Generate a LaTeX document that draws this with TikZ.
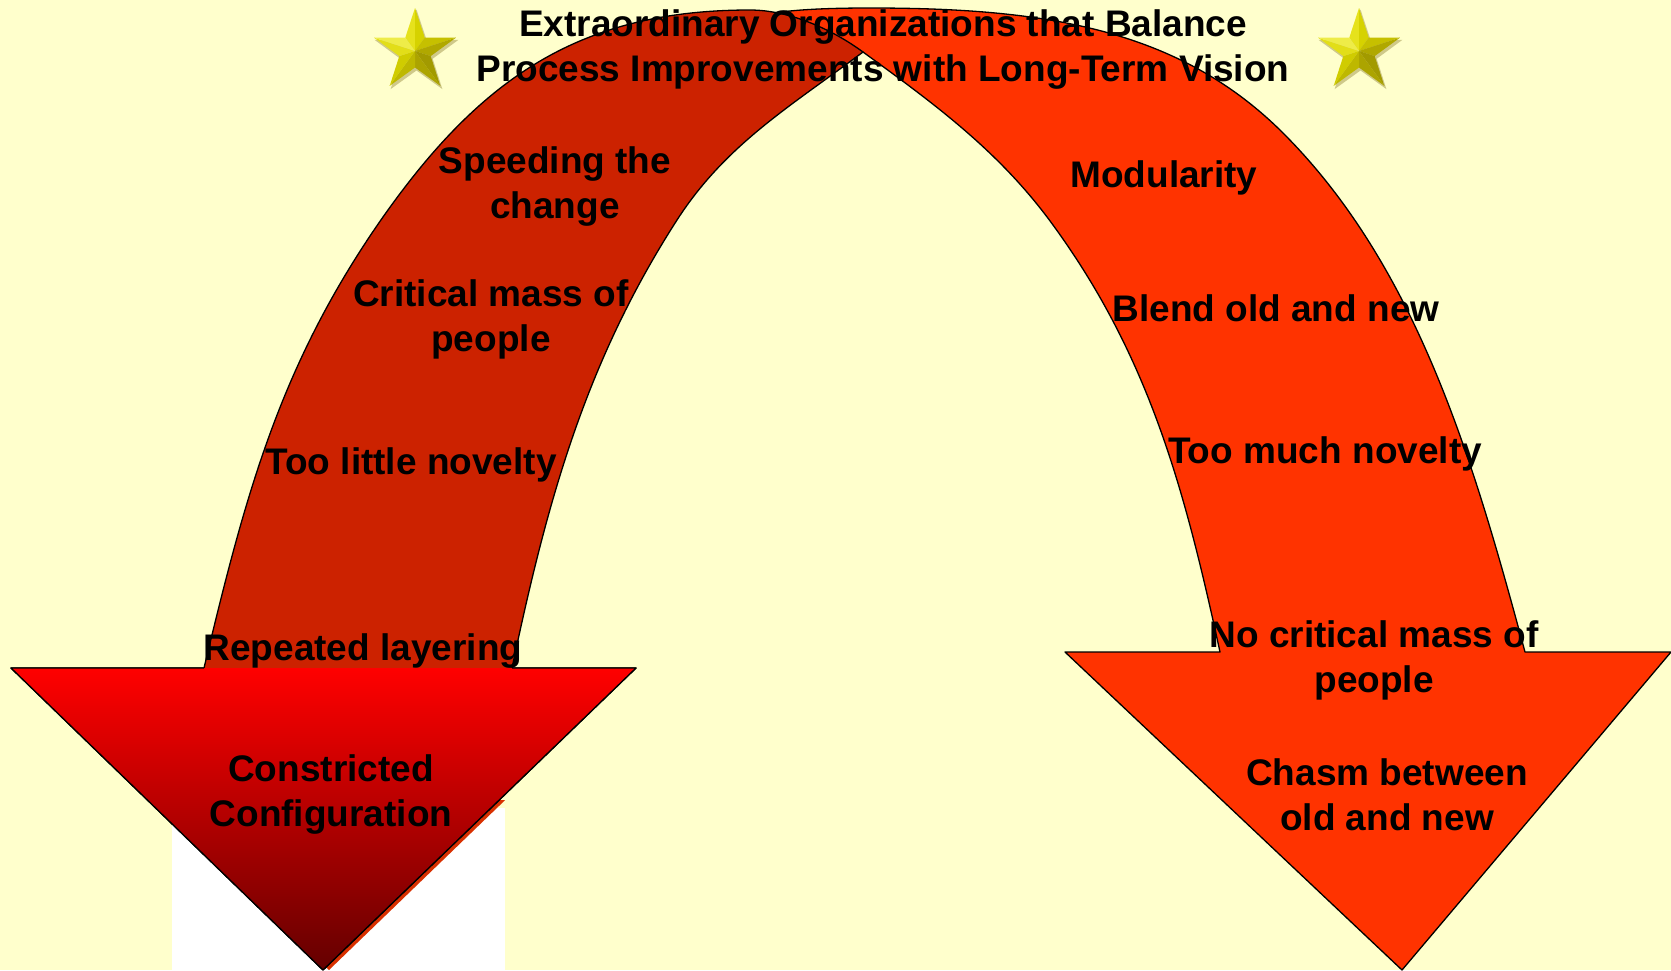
\documentclass[tikz,border=0pt]{standalone}
\usepackage{fontspec}
\setmainfont{Liberation Sans}
\definecolor{bg}{HTML}{FFFFCC}
\definecolor{lshaft}{HTML}{CC2200}
\definecolor{rshaft}{HTML}{FF3300}
\definecolor{headtop}{HTML}{FF0000}
\definecolor{headmid}{HTML}{D20000}
\definecolor{headbot}{HTML}{640000}
\definecolor{sliver}{HTML}{D83000}
\definecolor{stshadow}{HTML}{CFC98A}
\definecolor{stA}{HTML}{E6E21C}
\definecolor{stB}{HTML}{D6D200}
\definecolor{stC}{HTML}{C6C000}
\definecolor{stD}{HTML}{B0A800}
\definecolor{stE}{HTML}{A29A00}
\definecolor{stF}{HTML}{ACA400}
\definecolor{stG}{HTML}{BEB800}
\definecolor{stH}{HTML}{D0CC00}
\definecolor{stI}{HTML}{E2DE18}
\definecolor{stJ}{HTML}{EEEC48}
\tikzset{
  lbl/.style={font=\fontsize{37}{45}\selectfont\bfseries, align=center, inner sep=0pt, text=black},
  outline/.style={draw=black, line width=1.3pt, line join=round},
}
\newcommand\mystar[2]{%
  \begin{scope}[shift={(#1,#2)}]
    \fill[stshadow, shift={(1.5,2.5)}] (-90:44) -- (-54:17) -- (-18:44) -- (18:17) -- (54:44) -- (90:17) -- (126:44) -- (162:17) -- (198:44) -- (234:17) -- cycle;
    \foreach \t/\i/\c in {-90/-126/stA, -90/-54/stB, -18/-54/stC, -18/18/stD, 54/18/stE, 54/90/stF, 126/90/stG, 126/162/stH, 198/162/stI, 198/234/stJ}
      \fill[\c] (0,0) -- (\t:43) -- (\i:16.5) -- cycle;
  \end{scope}}
\begin{document}
\begin{tikzpicture}[x=1pt, y=-1pt]
\useasboundingbox (0,0) rectangle (1671,970);
\fill[bg] (0,0) rectangle (1671,970);

% white patch behind the left head
\fill[white] (172,808) rectangle (505,970);
\begin{scope}
  \clip (172,800) rectangle (512,970);
  \fill[sliver] (17,668) -- (642,668) -- (329,970) -- cycle;
\end{scope}

% right arrow (underneath)
\path[fill=rshaft, outline] (720,25) .. controls (760,12) and (800,8) .. (870,8)
  .. controls (1040,8) and (1177,27) .. (1283,133)
  .. controls (1417,267) and (1473,459) .. (1525,652)
  -- (1671,652) -- (1402,970) -- (1065,652) -- (1220,652)
  .. controls (1185,491) and (1150,358) .. (1053,225)
  .. controls (1000,152) and (936,105) .. (863,52)
  -- cycle;

% left arrow (on top)
\path[fill=lshaft, outline] (863,52) .. controls (833,30) and (790,10) .. (750,10)
  .. controls (580,10) and (481,78) .. (383,217)
  .. controls (280,364) and (246,493) .. (204,668)
  -- (11,668) -- (323,970) -- (636,668) -- (512,668)
  .. controls (547,502) and (585,363) .. (677,220)
  .. controls (726,144) and (791,106) .. (863,52)
  -- cycle;
\fill[top color=headtop, middle color=headmid, bottom color=headbot] (11,668) -- (636,668) -- (323,970) -- cycle;
\draw[outline] (204,668) -- (11,668) -- (323,970) -- (636,668) -- (512,668);

% stars
\mystar{415}{51}
\mystar{1359}{51}

% labels
\node[lbl] (title) at (883,50) {Extraordinary Organizations that Balance\\Process Improvements with Long-Term Vision};
\node[lbl] (speed) at (555,187) {Speeding the\\change};
\node[lbl] (critL) at (491,319) {Critical mass of\\people};
\node[lbl] (little) at (411,465) {Too little novelty};
\node[lbl] (layer) at (363,651) {Repeated layering};
\node[lbl] (constr) at (331,795) {Constricted\\Configuration};
\node[lbl] (modul) at (1164,178) {Modularity};
\node[lbl] (blend) at (1276,308) {Blend old and new};
\node[lbl] (much) at (1325,454) {Too much novelty};
\node[lbl] (critR) at (1374,660) {No critical mass of\\people};
\node[lbl] (chasm) at (1387,795) {Chasm between\\old and new};
\end{tikzpicture}
\end{document}
